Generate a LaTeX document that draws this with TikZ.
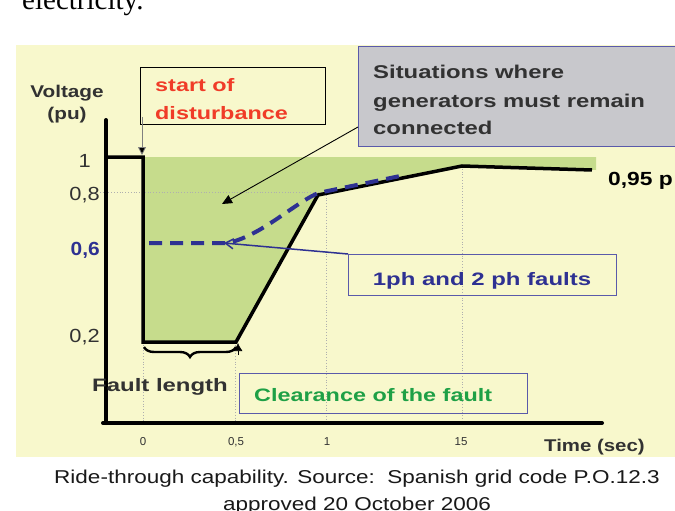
\documentclass[tikz,border=0pt]{standalone}
\usepackage{fontspec}
\setmainfont{Liberation Serif}
\setsansfont{Liberation Sans}
\usetikzlibrary{arrows.meta,decorations.pathreplacing}
\definecolor{bgyel}{RGB}{248,248,204}
\definecolor{greenf}{RGB}{198,220,140}
\definecolor{grayb}{RGB}{200,200,204}
\definecolor{boxblue}{RGB}{90,90,170}
\definecolor{darkblue}{RGB}{46,49,146}
\definecolor{redc}{RGB}{240,60,40}
\definecolor{greent}{RGB}{30,160,70}
\definecolor{darkt}{RGB}{50,50,50}
\definecolor{gridc}{RGB}{175,175,175}
\newcommand\hs[2]{\scalebox{#1}[1]{#2}}
\begin{document}
\begin{tikzpicture}[x=1pt,y=-1pt,
  lab/.style={font=\sffamily\bfseries\fontsize{18}{20}\selectfont, inner sep=0, anchor=base west},
  reg/.style={font=\sffamily\fontsize{19}{20}\selectfont, inner sep=0, text=darkt},
  tick/.style={font=\sffamily\fontsize{11.5}{12}\selectfont, inner sep=0, anchor=base, text=darkt},
  gridl/.style={draw=gridc, line width=0.8pt, dotted},
  curve/.style={line width=3.5pt, black, line join=miter},
  axisl/.style={line width=4pt, black, line cap=round},
  bluedash/.style={line width=4pt, darkblue, dash pattern=on 13pt off 8pt},
  boxn/.style={minimum width=#1, inner sep=0, anchor=north west},
]
\useasboundingbox (0,0) rectangle (675,511);
\fill[white] (0,0) rectangle (675,511);
\node[anchor=base west, inner sep=0, font=\rmfamily\fontsize{29}{30}\selectfont] (elec) at (22,10) {electricity.};
\fill[bgyel] (16,45) rectangle (675,457);

% green region
\fill[greenf] (143,157) -- (143,342) -- (236,342) -- (318,195) -- (462,166) -- (596,170) -- (596,157) -- cycle;

% grid
\draw[gridl] (100,192) -- (326,192);
\draw[gridl] (143,342) -- (143,423);
\draw[gridl] (235,342) -- (235,423);
\draw[gridl] (326,192) -- (326,423);
\draw[gridl] (462,166) -- (462,423);

% curves
\draw[curve] (106,157) -- (143,157) -- (143,342) -- (236,342) -- (318,195) -- (462,166) -- (592,170);
\draw[bluedash] (149,243) -- (228,243) .. controls (262,235) and (292,205) .. (318,193) -- (405,175);

% axes
\draw[axisl] (106,120) -- (106,423);
\draw[axisl] (103,423) -- (602,423);

% axis labels
\node[lab, anchor=base, text=darkt, font=\sffamily\bfseries\fontsize{17}{18}\selectfont] (vlab) at (67,97) {\hs{1.22}{Voltage}};
\node[lab, anchor=base, text=darkt, font=\sffamily\bfseries\fontsize{17}{18}\selectfont] (pulab) at (67,119) {\hs{1.22}{(pu)}};
\node[reg, anchor=base east] (y1) at (91,167) {\hs{1.15}{1}};
\node[reg, anchor=base east] (y08) at (100,200) {\hs{1.15}{0,8}};
\node[lab, anchor=base east, text=darkblue, font=\sffamily\bfseries\fontsize{19}{20}\selectfont] (y06) at (100,255) {\hs{1.1}{0,6}};
\node[reg, anchor=base east] (y02) at (100,342) {\hs{1.15}{0,2}};
\node[tick] (x0) at (143,445) {0};
\node[tick] (x05) at (236,445) {0,5};
\node[tick] (x1) at (327,445) {1};
\node[tick] (x15) at (461,445) {15};
\node[lab, text=darkt, font=\sffamily\bfseries\fontsize{17}{18}\selectfont] (tlab) at (544,451) {\hs{1.2}{Time (sec)}};
\node[lab, text=black, font=\sffamily\bfseries\fontsize{19}{20}\selectfont] (v95) at (608,185) {\hs{1.2}{0,95 p}};

% start of disturbance
\node[boxn=185pt, draw=black, line width=0.9pt, minimum height=57pt] (dist) at (140,67) {};
\node[lab, text=redc] (d1) at (155,92) {\hs{1.3}{start of}};
\node[lab, text=redc] (d2) at (155,120) {\hs{1.3}{disturbance}};
\coordinate (tipS) at (142,155);
\draw[gray, line width=0.8pt, -{Triangle[length=8pt,width=8pt,fill=black]}] ([shift={(2pt,8pt)}]dist.south west) -- (tipS);

% situations box
\node[boxn=340pt, fill=grayb, draw=boxblue, line width=1pt, minimum height=100pt] (sit) at (358,46) {};
\node[lab, text=darkt, font=\sffamily\bfseries\fontsize{18.5}{20}\selectfont] (s1) at (373,78) {\hs{1.29}{Situations where}};
\node[lab, text=darkt, font=\sffamily\bfseries\fontsize{18.5}{20}\selectfont] (s2) at (373,107) {\hs{1.29}{generators must remain}};
\node[lab, text=darkt, font=\sffamily\bfseries\fontsize{18.5}{20}\selectfont] (s3) at (373,134) {\hs{1.29}{connected}};
\coordinate (tipG) at (222,204);
\draw[black, line width=0.9pt, -{Triangle[length=10pt,width=9pt]}] ([yshift=20pt]sit.south west) -- (tipG);

% faults box
\node[boxn=268pt, draw=boxblue, line width=1.2pt, minimum height=41pt] (faults) at (348,254) {};
\node[lab, anchor=base, text=darkblue] (f1) at (482,285) {\hs{1.33}{1ph and 2 ph faults}};
\coordinate (tipB) at (224,243);
\draw[darkblue, line width=1.5pt, -{Straight Barb[length=8pt,width=10pt]}] (faults.north west) -- (tipB);

% fault length brace
\draw[decorate, decoration={brace, amplitude=10pt, mirror}, line width=2.4pt] (144,347) -- (236,347);
\draw[black, line width=0.6pt, -{Latex[length=8pt,width=9pt]}] (238,355) -- (238,343);
\node[lab, text=darkt] (flen) at (92,391) {\hs{1.33}{Fault length}};

% clearance box
\node[boxn=288pt, draw=boxblue, line width=1pt, minimum height=40pt] (clear) at (239,373) {};
\node[lab, text=greent] (c1) at (254,401) {\hs{1.3}{Clearance of the fault}};

% caption
\node[anchor=base, inner sep=0, font=\sffamily\fontsize{18.6}{20}\selectfont, text=black!90] (cap1) at (357,483) {\hs{1.21}{Ride-through capability. Source:\ \ Spanish grid code P.O.12.3}};
\node[anchor=base, inner sep=0, font=\sffamily\fontsize{18.6}{20}\selectfont, text=black!90] (cap2) at (357,510) {\hs{1.21}{approved 20 October 2006}};
\end{tikzpicture}
\end{document}
